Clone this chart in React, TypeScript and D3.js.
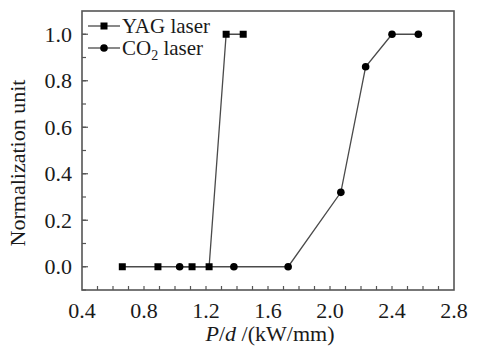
import React from "react";
import * as d3 from "d3";

const yagX = [0.66, 0.89, 1.11, 1.22, 1.33, 1.44];
const yagY = [0, 0, 0, 0, 1.0, 1.0];
const co2X = [1.03, 1.38, 1.73, 2.07, 2.23, 2.4, 2.57];
const co2Y = [0, 0, 0, 0.32, 0.86, 1.0, 1.0];
const xTicks = [0.4, 0.8, 1.2, 1.6, 2.0, 2.4, 2.8];
const yTicks = [0.0, 0.2, 0.4, 0.6, 0.8, 1.0];
const seriesNames = ["YAG laser", "CO2 laser"];

const W = 478;
const H = 347;
const L = 82, R = 454, T = 11, B = 290;
const FONT = "'Liberation Serif', 'Times New Roman', serif";
const FS = 22;

export default function App() {
  const x = d3.scaleLinear().domain([0.4, 2.8]).range([L, R]);
  const y = d3.scaleLinear().domain([-0.1, 1.1]).range([B, T]);
  const line = d3.line<[number, number]>().x(d => x(d[0])).y(d => y(d[1]));
  const yag: [number, number][] = yagX.map((v, i) => [v, yagY[i]]);
  const co2: [number, number][] = co2X.map((v, i) => [v, co2Y[i]]);
  const xMinor = d3.range(5, 28).map(v => v / 10);
  const yMinor = d3.range(-1, 11).map(v => v / 10);
  const ink = "#1a1a1a";
  const lineCol = "#4a4a4a";
  return (
    <svg width={W} height={H} style={{ position: "absolute", left: 0, top: 0, background: "#fff" }}>
      <rect x={0} y={0} width={W} height={H} fill="#fff" />
      {xMinor.map((v, i) => (
        <line key={"xm" + i} x1={x(v)} x2={x(v)} y1={B} y2={B - 4} stroke="#555" strokeWidth={1.2} />
      ))}
      {yMinor.map((v, i) => (
        <line key={"ym" + i} x1={L} x2={L + 4} y1={y(v)} y2={y(v)} stroke="#555" strokeWidth={1.2} />
      ))}
      {yTicks.map((v, i) => (
        <line key={"yt" + i} x1={L} x2={L + 6} y1={y(v)} y2={y(v)} stroke="#555" strokeWidth={1.2} />
      ))}
      <rect x={L} y={T} width={R - L} height={B - T} fill="none" stroke="#555" strokeWidth={1.6} />
      {xTicks.map((v, i) => (
        <text key={"xl" + i} x={x(v)} y={318} textAnchor="middle" fontFamily={FONT} fontSize={FS} fill={ink}>
          {v.toFixed(1)}
        </text>
      ))}
      {yTicks.map((v, i) => (
        <text key={"yl" + i} x={72} y={y(v) + 7.5} textAnchor="end" fontFamily={FONT} fontSize={FS} fill={ink}>
          {v.toFixed(1)}
        </text>
      ))}
      <text x={(L + R) / 2 + 2} y={341} textAnchor="middle" fontFamily={FONT} fontSize={FS} fill={ink}>
        <tspan fontStyle="italic">P</tspan>/<tspan fontStyle="italic">d</tspan> /(kW/mm)
      </text>
      <text transform={`translate(25,${163}) rotate(-90)`} textAnchor="middle" fontFamily={FONT} fontSize={FS} fill={ink}>
        Normalization unit
      </text>
      <path d={line(yag) || ""} fill="none" stroke={lineCol} strokeWidth={1.3} />
      <path d={line(co2) || ""} fill="none" stroke={lineCol} strokeWidth={1.3} />
      {yag.map((d, i) => (
        <rect key={"ys" + i} x={x(d[0]) - 3.5} y={y(d[1]) - 3.5} width={7} height={7} fill="#000" />
      ))}
      {co2.map((d, i) => (
        <circle key={"cc" + i} cx={x(d[0])} cy={y(d[1])} r={3.8} fill="#000" />
      ))}
      <g>
        <line x1={88} x2={120} y1={26} y2={26} stroke={lineCol} strokeWidth={1.3} />
        <rect x={104 - 3.5} y={26 - 3.5} width={7} height={7} fill="#000" />
        <text x={122} y={33} fontFamily={FONT} fontSize={21} fill={ink}>{seriesNames[0]}</text>
        <line x1={88} x2={120} y1={48} y2={48} stroke={lineCol} strokeWidth={1.3} />
        <circle cx={104} cy={48} r={3.8} fill="#000" />
        <text x={122} y={55} fontFamily={FONT} fontSize={21} fill={ink}>
          CO<tspan fontSize={14} dy={5}>2</tspan><tspan dy={-5}> laser</tspan>
        </text>
      </g>
    </svg>
  );
}
